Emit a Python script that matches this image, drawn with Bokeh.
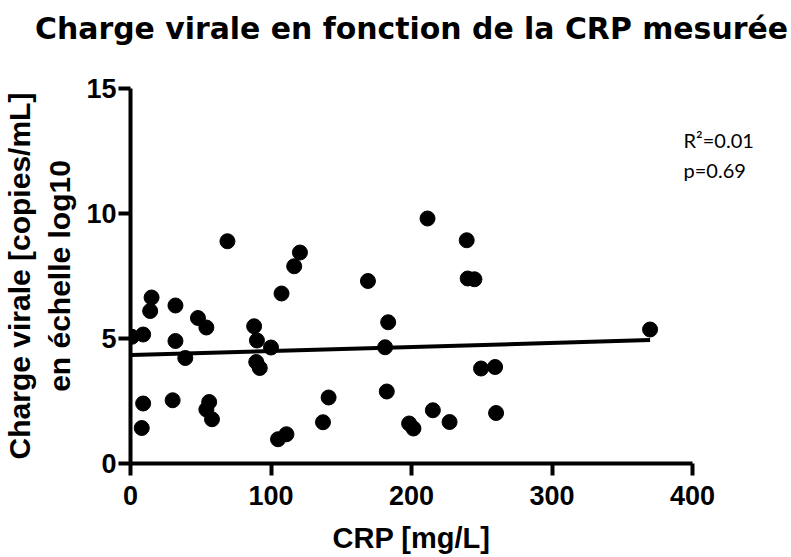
import numpy as np
from bokeh.plotting import figure
from bokeh.models import Range1d, FixedTicker, LinearAxis
from bokeh.embed import file_html
from bokeh.resources import INLINE

# ---- data ----
crp = [1, 9, 15, 14, 32, 48, 54, 32, 39, 9, 8, 30, 56, 54, 58,
       88, 90, 100, 89.5, 92, 105, 111, 69, 107.5, 116.5, 120.6,
       137, 141, 169, 183.4, 181.2, 182.4, 198.3, 201.4, 211.4, 215.2,
       227.1, 239.3, 240, 244.8, 249.5, 259.5, 260.2, 369.8]
charge_log10 = [5.07, 5.16, 6.64, 6.1, 6.32, 5.82, 5.44, 4.9, 4.22, 2.4, 1.42, 2.53, 2.46, 2.16, 1.77,
                5.49, 4.92, 4.64, 4.06, 3.82, 0.97, 1.17, 8.89, 6.8, 7.89, 8.44,
                1.65, 2.64, 7.3, 5.65, 4.65, 2.88, 1.6, 1.4, 9.8, 2.13,
                1.66, 8.93, 7.4, 7.37, 3.8, 3.86, 2.02, 5.36]
x_ticks = [0, 100, 200, 300, 400]
y_ticks = [0, 5, 10, 15]
title_text = "Charge virale en fonction de la CRP mesurée"
x_label = "CRP [mg/L]"
y_label = "Charge virale [copies/mL]\nen échelle log10"
stats_lines = ["p=0.69", "R²=0.01"]   # bottom to top

# linear regression from the data
slope, intercept = np.polyfit(crp, charge_log10, 1)
fit_x = [min(crp), max(crp)]
fit_y = [intercept + slope * v for v in fit_x]

FONT = "Liberation Sans"

p = figure(width=791, height=557, output_backend="svg", toolbar_location=None,
           x_range=Range1d(0, 400), y_range=Range1d(0, 15),
           min_border_left=128, min_border_right=99,
           min_border_top=88, min_border_bottom=94)
p.title = None
p.outline_line_color = None
p.xgrid.visible = False
p.ygrid.visible = False
p.background_fill_color = "white"
p.border_fill_color = "white"

xax = p.below[0]
yax = p.left[0]
for ax in (xax, yax):
    ax.axis_line_width = 4
    ax.axis_line_color = "black"
    ax.major_tick_line_width = 4
    ax.major_tick_line_color = "black"
    ax.major_tick_out = 12
    ax.major_tick_in = 0
    ax.minor_tick_line_color = None
    ax.major_label_text_font = FONT
    ax.major_label_text_font_style = "bold"
    ax.major_label_text_font_size = "27px"
    ax.major_label_text_color = "black"
    ax.axis_label_text_font = FONT
    ax.axis_label_text_font_style = "bold"
    ax.axis_label_text_color = "black"

xax.ticker = FixedTicker(ticks=x_ticks)
yax.ticker = FixedTicker(ticks=y_ticks)
xax.axis_label = x_label
yax.axis_label = y_label
xax.axis_label_text_font_size = "29px"
yax.axis_label_text_font_size = "30px"
xax.major_label_standoff = 10
yax.major_label_standoff = 2
xax.axis_label_standoff = 14
yax.axis_label_standoff = 7
yax.axis_label_text_line_height = 1.22

# chart title, carried by a bare axis above the plotting area
title_axis = LinearAxis(ticker=FixedTicker(ticks=[]), axis_label=title_text,
                        axis_line_color=None, major_tick_line_color=None,
                        minor_tick_line_color=None, major_tick_out=0, major_tick_in=0,
                        major_label_standoff=0, axis_label_standoff=43,
                        axis_label_text_font="DejaVu Sans", axis_label_text_font_style="bold",
                        axis_label_text_font_size="29.9px", axis_label_text_color="black")
p.add_layout(title_axis, "above")

p.line(fit_x, fit_y, line_color="black", line_width=4)
p.scatter(crp, charge_log10, size=15, fill_color="black", line_color="black")

# statistics text, shown as labels of an invisible right-hand axis
p.extra_y_ranges = {"stats": Range1d(-8.767, 3.733)}
stats_axis = LinearAxis(y_range_name="stats",
                        ticker=FixedTicker(ticks=[1, 2]),
                        major_label_overrides={i + 1: t for i, t in enumerate(stats_lines)},
                        axis_line_color=None, major_tick_line_color=None,
                        minor_tick_line_color=None, major_tick_out=0, major_tick_in=0,
                        major_label_standoff=-9,
                        major_label_text_font="Lato", major_label_text_font_size="20px",
                        major_label_text_color="black")
p.add_layout(stats_axis, "right")

open("out.html", "w").write(file_html(p, INLINE))
